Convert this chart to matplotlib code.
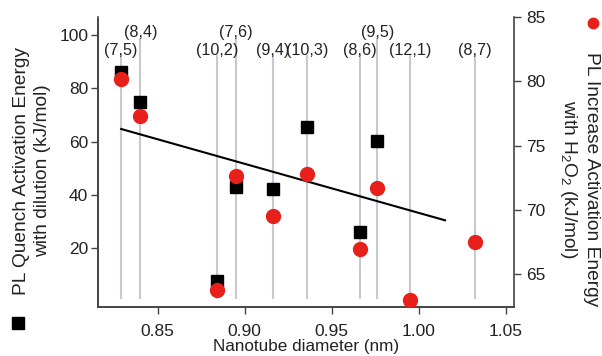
import matplotlib
matplotlib.use("Agg")
import matplotlib.pyplot as plt
from matplotlib.lines import Line2D
import numpy as np

plt.rcParams['font.family'] = ['Liberation Sans', 'DejaVu Sans']
plt.rcParams['mathtext.fontset'] = 'custom'
plt.rcParams['mathtext.rm'] = 'Liberation Sans'
plt.rcParams['mathtext.it'] = 'Liberation Sans:italic'

# nanotube chiralities and diameters (nm)
chirality = ['(7,5)', '(8,4)', '(10,2)', '(7,6)', '(9,4)', '(10,3)', '(8,6)', '(9,5)', '(12,1)', '(8,7)']
diameter = [0.829, 0.840, 0.884, 0.895, 0.916, 0.936, 0.966, 0.976, 0.995, 1.032]
label_row = [0, 1, 0, 1, 0, 0, 0, 1, 0, 0]   # 1 = upper row of labels

# PL quench activation energy with dilution (kJ/mol), first 8 tubes
quench = [86.2, 74.7, 7.8, 43.0, 42.1, 65.3, 25.9, 60.3]
# PL increase activation energy with H2O2 (kJ/mol)
increase = [80.2, 77.3, 63.75, 72.65, 69.5, 72.8, 66.95, 71.7, 63.0, 67.5]

fit_range = [0.829, 1.015]

W, H = 602, 356
fig = plt.figure(figsize=(W / 100, H / 100), dpi=100)
ax = fig.add_axes([98 / W, 1 - 307 / H, (514 - 98) / W, (307 - 17) / H])
ax2 = ax.twinx()

txt = '#222222'
grey = '#c8c8d2'

# vertical guide lines + chirality labels
d = np.array(diameter)
row = np.array(label_row)
tops = np.where(row == 1, 98.8, 92.4)
ax.vlines(d, 0.9, tops, colors=grey, lw=1.5, zorder=1)
for name, x, r in zip(chirality, diameter, label_row):
    ax.text(x, 100.7 if r else 94.3, name, ha='center', va='center',
            fontsize=11.6, color=txt)

# linear fit of the quench data
dq = d[:len(quench)]
k, b = np.polyfit(dq, quench, 1)
fx = np.array(fit_range)
ax.plot(fx, k * fx + b, color='black', lw=1.5, zorder=2)

ax.plot(dq, quench, 's', color='black', ms=8.6, zorder=3)
ax2.plot(d, increase, 'o', color='#e8201c', ms=10, zorder=3)

ax.set_xlim(0.8157, 1.0546)
ax.set_ylim(-2.06, 106.7)
ax2.set_ylim(62.43, 85.02)

ax.set_xticks([0.85, 0.90, 0.95, 1.00, 1.05])
ax.set_xticklabels(['0.85', '0.90', '0.95', '1.00', '1.05'])
ax.set_yticks([20, 40, 60, 80, 100])
ax2.set_yticks([65, 70, 75, 80, 85])

for a in (ax, ax2):
    a.spines['top'].set_visible(False)
    for s in a.spines.values():
        s.set_color('#444444')
        s.set_linewidth(1.2)
    a.tick_params(direction='out', length=5, width=1.0, colors='#444444',
                  labelcolor=txt, labelsize=12.5)
ax.spines['right'].set_visible(False)
ax.spines['left'].set_bounds(-2.06, 106)
ax.tick_params(axis='y', pad=2)
ax.tick_params(axis='x', pad=7)
ax2.tick_params(axis='y', pad=4)

ax.set_xlabel('Nanotube diameter (nm)', fontsize=12.3, color=txt, labelpad=0)

fig.text(32 / W, 1 - 171 / H, 'PL Quench Activation Energy\nwith dilution (kJ/mol)',
         rotation=90, ha='center', va='center', multialignment='center',
         fontsize=13.8, color=txt, linespacing=1.25)
fig.text(579 / W, 1 - 179 / H,
         'PL Increase Activation Energy\nwith H$_\\mathregular{2}$O$_\\mathregular{2}$ (kJ/mol)',
         rotation=270, ha='center', va='center', multialignment='center',
         fontsize=13.8, color=txt, linespacing=1.25)

fig.add_artist(Line2D([18 / W], [1 - 323 / H], transform=fig.transFigure,
                      marker='s', color='black', ms=8, ls='none'))
fig.add_artist(Line2D([593 / W], [1 - 23 / H], transform=fig.transFigure,
                      marker='o', color='#e8201c', ms=7.5, ls='none'))

fig.savefig('out.png', dpi=100)
